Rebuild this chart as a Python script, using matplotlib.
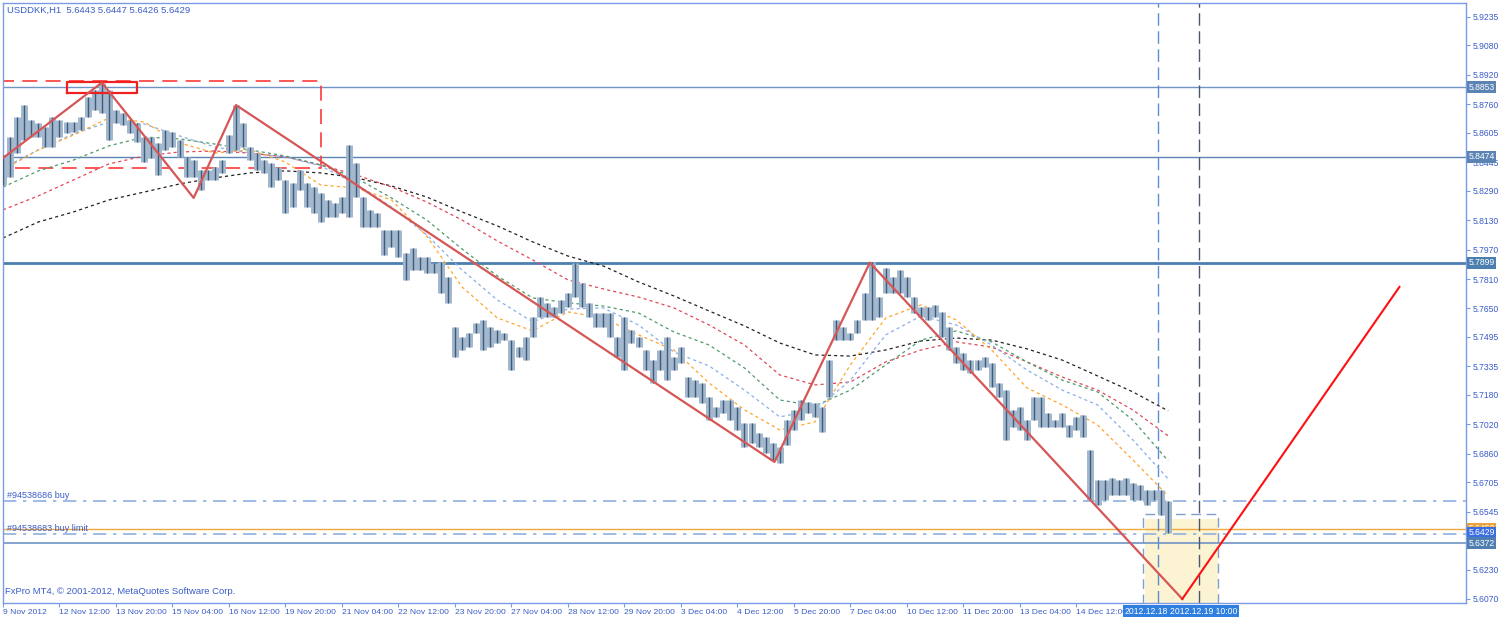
import matplotlib.pyplot as plt
from matplotlib.transforms import blended_transform_factory

plt.rcParams['font.family'] = ['Liberation Sans', 'DejaVu Sans']

# H1 bars, read every 4th bar off the chart (bar 0 = 9 Nov 2012)
bar_idx = list(range(0, 661, 4))
bar_high = [
    5.8484, 5.8582, 5.8691, 5.8756, 5.8675, 5.8659, 5.8637, 5.8691, 5.8675, 5.8664,
    5.8664, 5.8691, 5.8800, 5.8838, 5.8876, 5.8838, 5.8729, 5.8713, 5.8675, 5.8659,
    5.8582, 5.8582, 5.8550, 5.8620, 5.8610, 5.8566, 5.8474, 5.8457, 5.8403, 5.8403,
    5.8419, 5.8457, 5.8593, 5.8756, 5.8659, 5.8528, 5.8495, 5.8457, 5.8441, 5.8419,
    5.8348, 5.8332, 5.8403, 5.8332, 5.8310, 5.8278, 5.8240, 5.8223, 5.8256, 5.8539,
    5.8441, 5.8256, 5.8185, 5.8169, 5.8077, 5.8077, 5.8077, 5.7952, 5.7979, 5.7930,
    5.7930, 5.7898, 5.7903, 5.7821, 5.7549, 5.7494, 5.7516, 5.7570, 5.7587, 5.7549,
    5.7533, 5.7516, 5.7478, 5.7440, 5.7494, 5.7603, 5.7712, 5.7680, 5.7658, 5.7696,
    5.7734, 5.7898, 5.7788, 5.7680, 5.7625, 5.7625, 5.7625, 5.7494, 5.7603, 5.7533,
    5.7494, 5.7424, 5.7369, 5.7424, 5.7494, 5.7386, 5.7440, 5.7277, 5.7260, 5.7244,
    5.7168, 5.7114, 5.7152, 5.7152, 5.7114, 5.7027, 5.7027, 5.6973, 5.6951, 5.6918,
    5.6896, 5.7043, 5.7098, 5.7152, 5.7141, 5.7136, 5.7114, 5.7369, 5.7587, 5.7549,
    5.7516, 5.7587, 5.7734, 5.7903, 5.7712, 5.7870, 5.7821, 5.7859, 5.7821, 5.7712,
    5.7658, 5.7658, 5.7669, 5.7630, 5.7549, 5.7440, 5.7408, 5.7369, 5.7369, 5.7386,
    5.7353, 5.7244, 5.7206, 5.7098, 5.7114, 5.7043, 5.7168, 5.7168, 5.7081, 5.7043,
    5.7081, 5.7016, 5.7060, 5.7071, 5.6880, 5.6717, 5.6717, 5.6728, 5.6717, 5.6728,
    5.6701, 5.6690, 5.6663, 5.6663, 5.6663, 5.6600]
bar_low = [
    5.8321, 5.8365, 5.8495, 5.8566, 5.8582, 5.8582, 5.8528, 5.8528, 5.8582, 5.8604,
    5.8610, 5.8620, 5.8691, 5.8729, 5.8713, 5.8566, 5.8659, 5.8648, 5.8604, 5.8555,
    5.8446, 5.8468, 5.8376, 5.8512, 5.8528, 5.8474, 5.8365, 5.8365, 5.8294, 5.8348,
    5.8348, 5.8387, 5.8495, 5.8512, 5.8528, 5.8457, 5.8403, 5.8387, 5.8310, 5.8348,
    5.8169, 5.8202, 5.8294, 5.8202, 5.8169, 5.8120, 5.8147, 5.8147, 5.8169, 5.8147,
    5.8256, 5.8093, 5.8093, 5.8093, 5.7941, 5.7984, 5.7930, 5.7805, 5.7859, 5.7859,
    5.7843, 5.7843, 5.7734, 5.7680, 5.7386, 5.7424, 5.7440, 5.7516, 5.7424, 5.7440,
    5.7462, 5.7478, 5.7315, 5.7386, 5.7369, 5.7494, 5.7603, 5.7603, 5.7603, 5.7625,
    5.7658, 5.7712, 5.7658, 5.7603, 5.7549, 5.7549, 5.7494, 5.7386, 5.7315, 5.7462,
    5.7440, 5.7315, 5.7244, 5.7315, 5.7260, 5.7315, 5.7353, 5.7168, 5.7168, 5.7136,
    5.7043, 5.7060, 5.7081, 5.7043, 5.6989, 5.6896, 5.6918, 5.6896, 5.6864, 5.6826,
    5.6810, 5.6907, 5.6989, 5.7043, 5.7081, 5.7060, 5.6978, 5.7168, 5.7478, 5.7478,
    5.7478, 5.7516, 5.7587, 5.7587, 5.7603, 5.7734, 5.7734, 5.7734, 5.7712, 5.7625,
    5.7603, 5.7587, 5.7603, 5.7494, 5.7424, 5.7353, 5.7315, 5.7298, 5.7315, 5.7331,
    5.7222, 5.7168, 5.6935, 5.7005, 5.6989, 5.6935, 5.7043, 5.7005, 5.7005, 5.7005,
    5.7005, 5.6951, 5.6989, 5.6951, 5.6608, 5.6581, 5.6608, 5.6636, 5.6636, 5.6636,
    5.6608, 5.6608, 5.6581, 5.6608, 5.6526, 5.6426]

# moving averages, read every 20 bars
ma_idx = list(range(0, 661, 20))
ma_orange = [5.8403, 5.8512, 5.8593, 5.8686, 5.8664, 5.8550, 5.8495, 5.8512, 5.8446, 5.8321,
             5.8305, 5.8240, 5.8044, 5.7767, 5.7598, 5.7528, 5.7631, 5.7598, 5.7506, 5.7424,
             5.7244, 5.7098, 5.6989, 5.7033, 5.7343, 5.7598, 5.7669, 5.7587, 5.7424, 5.7218,
             5.7125, 5.7016, 5.6826, 5.6630]
ma_blue = [5.8414, 5.8512, 5.8599, 5.8664, 5.8653, 5.8588, 5.8528, 5.8495, 5.8474, 5.8425,
           5.8327, 5.8202, 5.8050, 5.7859, 5.7696, 5.7577, 5.7647, 5.7653, 5.7560, 5.7413,
           5.7337, 5.7206, 5.7060, 5.7098, 5.7260, 5.7506, 5.7609, 5.7560, 5.7451, 5.7315,
           5.7206, 5.7125, 5.6935, 5.6723]
ma_green = [5.8310, 5.8398, 5.8457, 5.8534, 5.8582, 5.8572, 5.8544, 5.8512, 5.8479, 5.8430,
            5.8360, 5.8251, 5.8131, 5.7973, 5.7827, 5.7707, 5.7680, 5.7663, 5.7625, 5.7522,
            5.7451, 5.7326, 5.7152, 5.7120, 5.7206, 5.7343, 5.7478, 5.7528, 5.7468, 5.7359,
            5.7260, 5.7196, 5.7043, 5.6821]
ma_red = [5.8186, 5.8262, 5.8349, 5.8436, 5.8479, 5.8501, 5.8506, 5.8495, 5.8474, 5.8430,
          5.8376, 5.8311, 5.8229, 5.8131, 5.8017, 5.7914, 5.7805, 5.7756, 5.7712, 5.7653,
          5.7560, 5.7451, 5.7288, 5.7234, 5.7250, 5.7359, 5.7424, 5.7468, 5.7440, 5.7359,
          5.7277, 5.7206, 5.7098, 5.6957]
ma_black = [5.8033, 5.8120, 5.8175, 5.8240, 5.8283, 5.8327, 5.8360, 5.8387, 5.8398, 5.8387,
            5.8360, 5.8316, 5.8256, 5.8175, 5.8099, 5.8012, 5.7935, 5.7881, 5.7794, 5.7718,
            5.7636, 5.7555, 5.7462, 5.7397, 5.7391, 5.7424, 5.7473, 5.7489, 5.7478, 5.7430,
            5.7369, 5.7283, 5.7196, 5.7093]

# zigzag drawn by hand on the chart
zz_idx = [0, 56, 108, 132, 437, 491, 668]
zz_price = [5.8468, 5.8878, 5.8251, 5.8756, 5.6815, 5.7899, 5.6070]
proj_idx = [668, 791]
proj_price = [5.6070, 5.7767]

# horizontal levels / orders
levels = [5.8853, 5.8474, 5.7899, 5.6372]
order_buy = 5.6605
order_limit = 5.6425
ask = 5.6452
bid = 5.6429

# boxes
top_box_idx = [0, 180]
top_box_price = [5.8412, 5.8889]
peak_box_idx = [36, 76]
peak_box_price = [5.8820, 5.8883]
zone_idx = [645.5, 688]
zone_top = 5.6531
zone_fill_idx = [647, 688]
zone_fill_top = 5.6505
vline_idx = [654, 677.7]

xtick_idx = list(range(0, 609, 32))
xtick_labels = ['9 Nov 2012', '12 Nov 12:00', '13 Nov 20:00', '15 Nov 04:00', '16 Nov 12:00',
                '19 Nov 20:00', '21 Nov 04:00', '22 Nov 12:00', '23 Nov 20:00', '27 Nov 04:00',
                '28 Nov 12:00', '29 Nov 20:00', '3 Dec 04:00', '4 Dec 12:00', '5 Dec 20:00',
                '7 Dec 04:00', '10 Dec 12:00', '11 Dec 20:00', '13 Dec 04:00', '14 Dec 12:00']
ytick_vals = [5.9235, 5.9080, 5.8920, 5.8760, 5.8605, 5.8445, 5.8290, 5.8130, 5.7970, 5.7810,
              5.7650, 5.7495, 5.7335, 5.7180, 5.7020, 5.6860, 5.6705, 5.6545, 5.6230, 5.6070]

txt_blue = '#3a5cc8'
frame = '#7b9ae6'

fig = plt.figure(figsize=(15, 6.18), dpi=100)
ax = fig.add_axes([3 / 1500, 15 / 618, 1463 / 1500, 600 / 618])
ax.set_xlim(0, 828.7)
ax.set_ylim(5.6048, 5.9311)

# yellow zone
ax.fill_between(zone_fill_idx, 5.5, zone_fill_top, color='#fbf3d2', zorder=0.5, lw=0)
ax.plot([zone_idx[0], zone_idx[0], zone_idx[1], zone_idx[1]],
        [5.5, zone_top, zone_top, 5.5], color='#7f9fd0', lw=1, ls=(0, (7, 4)), zorder=1)

# levels
ax.axhline(levels[0], color='#6f93c4', lw=1, zorder=1)
ax.axhline(levels[1], color='#5b84b5', lw=1, zorder=1)
ax.axhline(levels[2], color='#4b7fb0', lw=2, zorder=1)
ax.axhline(levels[3], color='#6f93c4', lw=1.2, zorder=1)
ax.axhline(ask, color='#f0a840', lw=1, zorder=1)
ax.axhline(order_buy, color='#8fb0e0', lw=1.2, ls=(0, (8, 4, 2, 4)), zorder=1)
ax.axhline(order_limit, color='#8fb0e0', lw=1.2, ls=(0, (8, 4, 2, 4)), zorder=1)

# vertical lines
ax.axvline(vline_idx[0], color='#5f8bd0', lw=1, ls=(0, (9, 4)), zorder=1)
ax.axvline(vline_idx[1], color='#4c5670', lw=1, ls=(0, (9, 4)), zorder=1)

# red dashed box and peak box
ax.plot([-5, top_box_idx[1], top_box_idx[1], -5],
        [top_box_price[1], top_box_price[1], top_box_price[0], top_box_price[0]],
        color='#ff3a3a', lw=1.2, ls=(0, (9, 5)), zorder=2)
ax.plot([peak_box_idx[0], peak_box_idx[1], peak_box_idx[1], peak_box_idx[0], peak_box_idx[0]],
        [peak_box_price[0], peak_box_price[0], peak_box_price[1], peak_box_price[1], peak_box_price[0]],
        color='#f02020', lw=1.6, zorder=4)

# moving averages
for vals, col in [(ma_black, '#222222'), (ma_red, '#e04858'), (ma_green, '#4f9a6a'),
                  (ma_blue, '#8aaee8'), (ma_orange, '#ffa42e')]:
    ax.plot(ma_idx, vals, color=col, lw=0.9, ls=(0, (2.5, 2.5)), zorder=2)

# price bars
ax.vlines(bar_idx, bar_low, bar_high, color='#a3b8cd', lw=5.0, zorder=3)
ax.vlines(bar_idx, bar_low, bar_high, color='#3d5c7c', lw=1.0, zorder=3)

# zigzag + projection
ax.plot(zz_idx, zz_price, color='#d65656', lw=1.6, zorder=4)
ax.plot(proj_idx, proj_price, color='#ff1010', lw=1.5, zorder=4)

# frame
for s in ax.spines.values():
    s.set_color(frame)
    s.set_linewidth(1)

ax.set_xticks(xtick_idx, xtick_labels)
for lbl in ax.get_xticklabels():
    lbl.set_ha('left')
ax.tick_params(axis='x', direction='out', length=3, pad=1, colors=frame,
               labelcolor=txt_blue, labelsize=6.1)
ax.yaxis.tick_right()
ax.set_yticks(ytick_vals, [f'{v:.4f}' for v in ytick_vals])
ax.tick_params(axis='y', direction='out', length=3, pad=1.5, colors=frame,
               labelcolor=txt_blue, labelsize=6.2)

# price labels on the right axis
yt = blended_transform_factory(ax.transAxes, ax.transData)
for val, fc in [(levels[0], '#5b84b5'), (levels[1], '#5b84b5'), (levels[2], '#4b7fb0'),
                (ask, '#e8a33a'), (bid, '#3c6ee0'), (levels[3], '#4f7fb0')]:
    ax.text(1.0015, val, f'{val:.4f}', transform=yt, ha='left', va='center', fontsize=6.2,
            color='white', clip_on=False, zorder=6,
            bbox=dict(boxstyle='square,pad=0.18', fc=fc, ec='none'))

# time labels of the vertical lines
xt = blended_transform_factory(ax.transData, ax.transAxes)
ax.text(635.5, -0.0135, '2012.12.18', transform=xt, ha='left', va='center', fontsize=6.2,
        color='white', clip_on=False, zorder=6,
        bbox=dict(boxstyle='square,pad=0.18', fc='#2f7fe0', ec='none'))
ax.text(661, -0.0135, '2012.12.19 10:00', transform=xt, ha='left', va='center', fontsize=6.2,
        color='white', clip_on=False, zorder=6,
        bbox=dict(boxstyle='square,pad=0.18', fc='#2f7fe0', ec='none'))

# texts
ax.text(2.5, 0.988, 'USDDKK,H1  5.6443 5.6447 5.6426 5.6429', transform=xt,
        ha='left', va='center', fontsize=6.8, color=txt_blue)
ax.text(2.5, order_buy + 0.0004, '#94538686 buy', ha='left', va='bottom', fontsize=6.5, color=txt_blue)
ax.text(2.5, order_limit + 0.0004, '#94538683 buy limit', ha='left', va='bottom', fontsize=6.5,
        color=txt_blue)
ax.text(0.0015, 0.012, 'FxPro MT4, \u00a9 2001-2012, MetaQuotes Software Corp.', transform=ax.transAxes,
        ha='left', va='bottom', fontsize=6.8, color=txt_blue)

fig.savefig('out.png', dpi=100, facecolor='white')
